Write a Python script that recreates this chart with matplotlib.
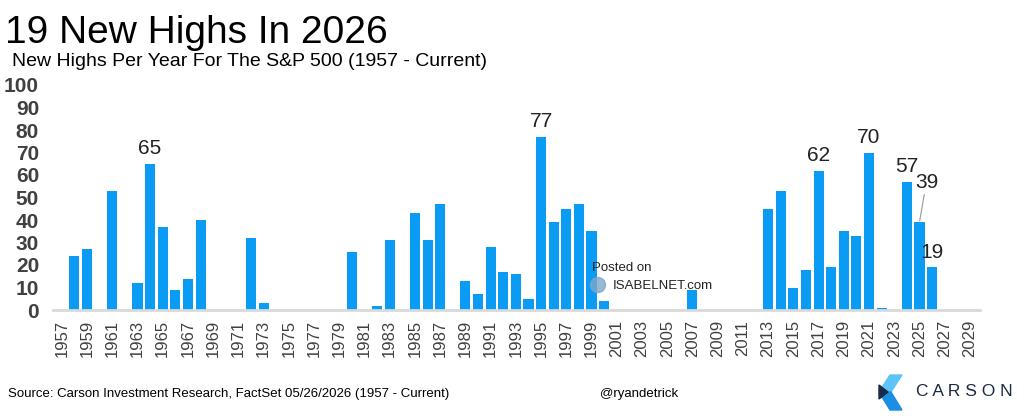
import matplotlib
matplotlib.use('Agg')
import matplotlib.pyplot as plt
from matplotlib.patches import Polygon, Ellipse

plt.rcParams['font.family'] = ['Liberation Sans', 'DejaVu Sans']

# data: S&P 500 new highs per year
years = list(range(1957, 2030))
highs = [0, 24, 27, 0, 53, 0, 12, 65, 37, 9, 14, 40, 0, 0, 0, 32, 3,
         0, 0, 0, 0, 0, 0, 26, 0, 2, 31, 0, 43, 31, 47, 0, 13, 7, 28,
         17, 16, 5, 77, 39, 45, 47, 35, 4, 0, 0, 0, 0, 0, 0, 9, 0, 0,
         0, 0, 0, 45, 53, 10, 18, 62, 19, 35, 33, 70, 1, 0, 57, 39, 19,
         0, 0, 0]
labelled = [1964, 1995, 2017, 2021, 2024, 2026]
tick_years = list(range(1957, 2030, 2))
yticks = list(range(0, 101, 10))

bar_color = '#0a9cf5'
W, H = 1024, 420

fig = plt.figure(figsize=(10.24, 4.2), dpi=100)
ax = fig.add_axes([53 / W, 1 - 310 / H, 927 / W, 225 / H])

ax.bar(years, highs, width=0.8, color=bar_color, zorder=2)
ax.set_xlim(1956.3, 2029.8)
ax.set_ylim(0, 100)

ax.set_xticks(tick_years)
ax.set_xticklabels([str(y) for y in tick_years], rotation=90,
                   fontsize=12, color='#404040')
ax.set_yticks(yticks)
ax.set_yticklabels([str(v) for v in yticks], fontsize=15,
                   fontweight='bold', color='#404040')
ax.tick_params(axis='both', length=0)
ax.tick_params(axis='y', pad=10)
ax.tick_params(axis='x', pad=7)

for side in ['top', 'right', 'left']:
    ax.spines[side].set_visible(False)
ax.spines['bottom'].set_color('#d9d9d9')
ax.spines['bottom'].set_linewidth(2)

# value labels
for y in labelled:
    v = highs[years.index(y)]
    ax.annotate(str(v), (y, v), xytext=(0, 4), textcoords='offset points',
                ha='center', va='bottom', fontsize=15, color='#222222')
v25 = highs[years.index(2025)]
ax.annotate(str(v25), (2025, v25), xytext=(5, 22), textcoords='offset points',
            ha='center', va='bottom', fontsize=15, color='#222222',
            arrowprops=dict(arrowstyle='-', color='#999999', lw=0.8,
                            shrinkA=0, shrinkB=1))

# titles
fig.text(5 / W, 1 - 43 / H, '19 New Highs In 2026', fontsize=28,
         color='black', ha='left', va='baseline')
fig.text(12 / W, 1 - 66 / H, 'New Highs Per Year For The S&P 500 (1957 - Current)',
         fontsize=14, color='black', ha='left', va='baseline')

# watermark
fig.text(592 / W, 1 - 271 / H, 'Posted on', fontsize=9.5, color='#222222')
fig.text(613 / W, 1 - 289 / H, 'ISABELNET.com', fontsize=9.5, color='#222222')
fig.add_artist(Ellipse((598 / W, 1 - 285 / H), 15 / W, 15 / H, color='#7fa7c9',
                       alpha=0.8, transform=fig.transFigure))

# footer
fig.text(8 / W, 1 - 397 / H,
         'Source: Carson Investment Research, FactSet 05/26/2026 (1957 - Current)',
         fontsize=9.5, color='black', ha='left', va='baseline')
fig.text(639 / W, 1 - 397 / H, '@ryandetrick', fontsize=9.5, color='black',
         ha='center', va='baseline')


def px(pts):
    return [(x / W, 1 - y / H) for x, y in pts]


fig.add_artist(Polygon(px([(890, 375), (902, 375), (891, 392), (879, 392)]),
                       closed=True, color='#5ec3f7', transform=fig.transFigure))
fig.add_artist(Polygon(px([(879, 392), (891, 392), (902, 410), (890, 410)]),
                       closed=True, color='#1a8fe3', transform=fig.transFigure))
fig.add_artist(Polygon(px([(879, 385), (888, 392), (879, 399)]),
                       closed=True, color='#1b2a44', transform=fig.transFigure))
fig.text(964 / W, 1 - 392 / H, 'C A R S O N', fontsize=12.5, color='#1b2a44',
         ha='center', va='center')

fig.savefig('out.png', dpi=100)
